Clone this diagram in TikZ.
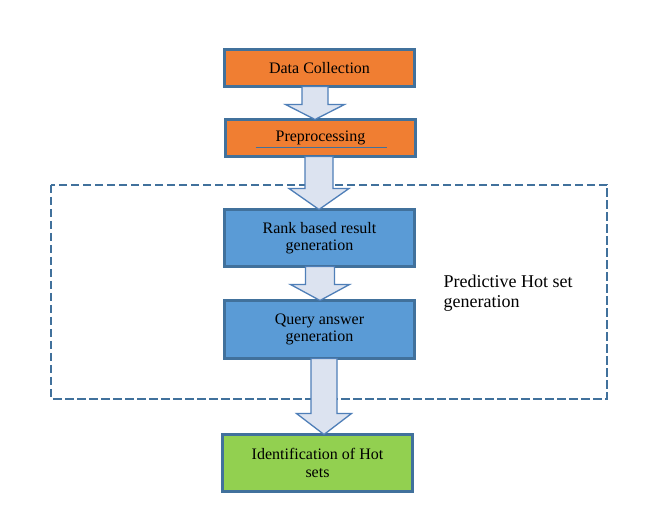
\documentclass[tikz,border=0pt]{standalone}
\usepackage{fontspec}
\setmainfont{Liberation Serif}
\usetikzlibrary{calc}
\definecolor{bordc}{HTML}{41719C}
\definecolor{orangec}{HTML}{F07E32}
\definecolor{bluec}{HTML}{5A9BD6}
\definecolor{greenc}{HTML}{92D050}
\definecolor{arrfill}{HTML}{DCE3F0}
\definecolor{arrline}{HTML}{4F7FB8}
\tikzset{
  procbox/.style={draw=bordc, line width=3.2pt, minimum width=190pt, inner sep=0pt, outer sep=0pt,
    align=center, font=\fontsize{16}{17.5}\selectfont},
  blockarrow/.style={draw=arrline, fill=arrfill, line width=1.3pt, line join=miter},
  groupbox/.style={draw=bordc, line width=2.5pt, dash pattern=on 8.5pt off 3.5pt}
}
\newcommand\myarrow[6]{% from, to, xcenter, shaft half, head half, head length
  \draw[blockarrow] ($(#1.south -| #3pt,0)+(-#4pt,0)$) --
    ($(#2.north -| #3pt,0)+(-#4pt,#6pt)$) --
    ($(#2.north -| #3pt,0)+(-#5pt,#6pt)$) --
    (#2.north -| #3pt,0) --
    ($(#2.north -| #3pt,0)+(#5pt,#6pt)$) --
    ($(#2.north -| #3pt,0)+(#4pt,#6pt)$) --
    ($(#1.south -| #3pt,0)+(#4pt,0)$) -- cycle;}
\begin{document}
\begin{tikzpicture}[x=1pt,y=1pt]
\useasboundingbox[fill=white] (0,0) rectangle (655,516);
% group
\draw[groupbox] (51,331) rectangle (607,117);
\node[anchor=north west, align=left, font=\fontsize{18}{20}\selectfont] (lbl) at (440,245)
  {Predictive Hot set\\generation};
% boxes
\node[procbox, fill=orangec, minimum height=37pt] (dc) at (319.5,448) {Data Collection};
\node[procbox, fill=orangec, minimum height=37pt] (pp) at (320.5,378) {Preprocessing};
\draw[draw=bordc, line width=1pt] ($(pp.center)+(-65,-9.5)$) coordinate (ula) -- ($(pp.center)+(66,-9.5)$) coordinate (ulb);
\node[procbox, fill=bluec, minimum height=57pt] (rk) at (319.5,278) {Rank based result\\generation};
\node[procbox, fill=bluec, minimum height=58pt] (qa) at (319.5,186.5) {Query answer\\generation};
\node[procbox, fill=greenc, minimum height=57pt] (id) at (317.5,53) {Identification of Hot\\sets};
% arrows
\myarrow{dc}{pp}{315}{13}{29.5}{15}
\myarrow{pp}{rk}{319}{14}{30}{21}
\myarrow{rk}{qa}{320}{14.5}{29.5}{16}
\myarrow{qa}{id}{324}{13}{27.5}{21}
\end{tikzpicture}
\end{document}
